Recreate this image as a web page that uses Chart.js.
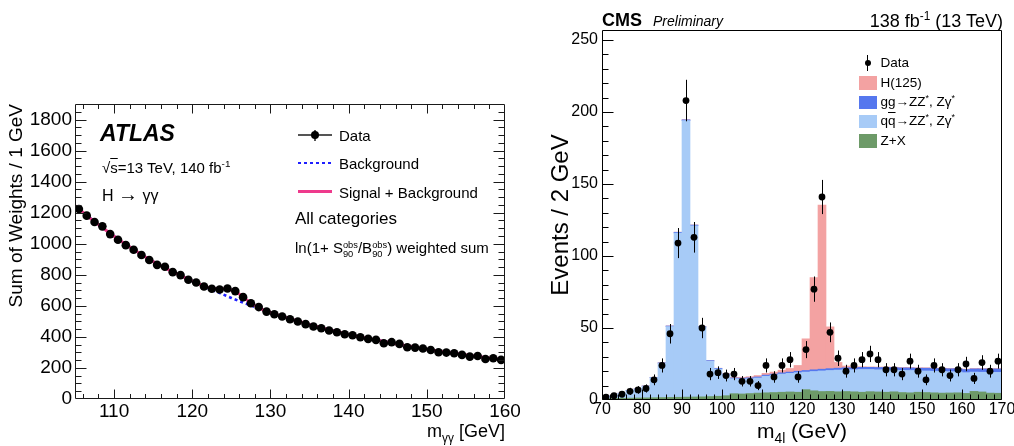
<!DOCTYPE html>
<html>
<head>
<meta charset="utf-8">
<script src="https://cdn.jsdelivr.net/npm/chart.js@4.4.1/dist/chart.umd.min.js"></script>
<style>
html,body{margin:0;padding:0;background:#fff;}
#wrap{position:relative;width:1014px;height:446px;overflow:hidden;background:#fff;font-family:"Liberation Sans",Arial,Helvetica,sans-serif;color:#000;}
canvas{position:absolute;top:0;}
.t{position:absolute;white-space:nowrap;line-height:1;}
.t sub,.t sup{font-size:0.66em;line-height:0;}
.ss{display:inline-block;font-size:0.62em;line-height:0.95;vertical-align:-0.42em;text-align:left;}
.ol{text-decoration:overline;}
.sym{position:absolute;}
</style>
</head>
<body>
<div id="wrap">
<canvas id="atlas" width="520" height="446" style="left:0px;width:520px;height:446px"></canvas>
<canvas id="cms" width="484" height="446" style="left:530px;width:484px;height:446px"></canvas>
</div>
<script>
// ================= ATLAS  H -> gamma gamma =================
const atlasMass = [105.5,106.5,107.5,108.5,109.5,110.5,111.5,112.5,113.5,114.5,
  115.5,116.5,117.5,118.5,119.5,120.5,121.5,122.5,123.5,124.5,
  125.5,126.5,127.5,128.5,129.5,130.5,131.5,132.5,133.5,134.5,
  135.5,136.5,137.5,138.5,139.5,140.5,141.5,142.5,143.5,144.5,
  145.5,146.5,147.5,148.5,149.5,150.5,151.5,152.5,153.5,154.5,
  155.5,156.5,157.5,158.5,159.5];
const atlasData = [1224,1181,1140,1112,1062,1026,991,961,927,895,
  864,852,817,798,768,750,725,710,705,712,
  695,656,617,592,563,546,531,514,499,482,
  467,456,441,430,417,411,398,387,381,359,
  366,355,333,331,325,316,301,299,295,284,
  273,277,258,262,252];
const atlasCurveMass = [105,106,107,108,109,110,111,112,113,114,115,116,117,118,119,120,
  121,122,123,124,125,126,127,128,129,130,131,132,133,134,135,136,137,138,139,140,
  141,142,143,144,145,146,147,148,149,150,151,152,153,154,155,156,157,158,159,160];
const atlasBkg = [1245,1203,1162,1123,1085,1048,1013,979,947,915,885,857,832,807,783,760,
  737,714,693,672,651,631,612,593,574,557,540,524,509,494,479,465,452,440,428,416,
  405,395,385,375,366,356,347,338,329,320,312,305,298,291,284,277,270,264,257,251];
const atlasSplusB = [1245,1203,1162,1123,1085,1048,1013,979,947,915,885,857,832,807,783,760,
  738,719,711,710,702,676,637,602,576,557,540,524,509,494,479,465,452,440,428,416,
  405,395,385,375,366,356,347,338,329,320,312,305,298,291,284,277,270,264,257,251];
const atlasXTicks = [110,120,130,140,150,160];
const atlasYTicks = [0,200,400,600,800,1000,1200,1400,1600,1800];

// ================= CMS  H -> ZZ -> 4l =================
const cmsMass = [71,73,75,77,79,81,83,85,87,89,91,93,95,97,99,101,103,105,107,109,
  111,113,115,117,119,121,123,125,127,129,131,133,135,137,139,141,143,145,147,149,
  151,153,155,157,159,161,163,165,167,169];
const cmsZX = [1.0,1.1,1.2,1.3,1.4,1.5,1.6,1.7,1.8,1.9, 2.0,2.1,2.2,2.4,2.6,3.0,4.4,4.2,4.5,4.8,
  5.0,5.2,5.4,5.6,5.4,7.2,6.4,5.9,6.0,5.7, 5.9,5.7,5.4,5.8,5.6,5.4,5.7,5.2,5.0,5.4,
  5.2,5.0,4.8,4.9,5.0,4.6,6.0,5.6,4.8,4.7];
const cmsQQ = [1.0,1.9,3.3,5.2,6.1,8.0,13.9,23.8,49.2,114.1, 192.0,118.9,48.3,24.6,18.9,14.5,10.4,10.4,10.3,10.5,
  11.5,12.0,12.6,12.9,13.6,12.2,13.4,14.3,14.5,15.1, 15.1,15.3,15.8,15.4,15.4,15.6,15.1,15.4,15.5,14.9,
  15.0,15.0,15.1,14.8,14.6,14.4,13.4,13.7,14.4,14.5];
const cmsGG = [0.2,0.2,0.2,0.2,0.2,0.2,0.2,0.3,0.4,0.5, 0.6,0.5,0.4,0.4,0.5,0.5,0.5,0.6,0.6,0.7,
  0.8,0.8,0.9,0.9,1.0,1.1,1.2,1.2,1.3,1.3, 1.4,1.4,1.5,1.5,1.6,1.6,1.7,1.7,1.8,1.8,
  1.9,1.9,2.0,2.0,2.1,2.2,2.2,2.3,2.3,2.4];
const cmsH = [0.1,0.1,0.1,0.1,0.1,0.1,0.1,0.1,0.1,0.1, 0.1,0.1,0.1,0.1,0.1,0.3,0.5,0.6,0.8,1.0,
  1.2,1.4,1.8,2.5,4.0,22,64,114,29,4, 1.2,0.6,0.4,0.3,0.3,0.3,0.3,0.3,0.3,0.3,
  0.3,0.3,0.3,0.3,0.3,0.3,0.3,0.3,0.3,0.3];
const cmsData = [2,3,4,6,7,8,14,24,46,109, 208,113,50,18,19,17,18,13,13,10,
  24,16,24,28,16,35,77,141,47,29, 20,24,28,32,28,21,21,18,27,20,
  14,24,21,17,21,25,15,26,20,27];
const cmsXTicks = [70,80,90,100,110,120,130,140,150,160,170];
const cmsYTicks = [0,50,100,150,200,250];

const FONT = '"Liberation Sans", Arial, Helvetica, sans-serif';
Chart.defaults.font.family = FONT;
Chart.defaults.color = '#000';

function zeroPad(s){ s.paddingLeft = 0; s.paddingRight = 0; s.paddingTop = 0; s.paddingBottom = 0; }

// ROOT-style frame with inward ticks, placed through the chart's scales
function rootFrame(cfg) {
  return {
    id: 'rootFrame',
    afterDraw(chart) {
      const {ctx, chartArea: a, scales} = chart;
      const xs = scales.x, ys = scales.y;
      const L = Math.round(a.left) + 0.5, R = Math.round(a.right) - 0.5;
      const T = Math.round(a.top) + 0.5, B = Math.round(a.bottom) - 0.5;
      ctx.save();
      ctx.strokeStyle = cfg.color;
      ctx.lineWidth = 1;
      ctx.beginPath();
      ctx.rect(L, T, R - L, B - T);
      const isMajor = (v, step) => Math.abs(v / step - Math.round(v / step)) < 1e-6;
      const x0 = Math.ceil(xs.min / cfg.xMinor - 1e-9) * cfg.xMinor;
      for (let i = 0; x0 + i * cfg.xMinor <= xs.max + 1e-9; i++) {
        const v = x0 + i * cfg.xMinor;
        const px = Math.round(xs.getPixelForValue(v)) + 0.5;
        if (px <= L + 1 || px >= R - 1) continue;
        const len = isMajor(v, cfg.xMajor) ? cfg.xMajLen : cfg.xMinLen;
        ctx.moveTo(px, B); ctx.lineTo(px, B - len);
        if (cfg.top) { ctx.moveTo(px, T); ctx.lineTo(px, T + len); }
      }
      const y0 = Math.ceil(ys.min / cfg.yMinor - 1e-9) * cfg.yMinor;
      for (let i = 0; y0 + i * cfg.yMinor <= ys.max + 1e-9; i++) {
        const v = y0 + i * cfg.yMinor;
        const py = Math.round(ys.getPixelForValue(v)) + 0.5;
        if (py <= T + 1 || py >= B - 1) continue;
        const len = isMajor(v, cfg.yMajor) ? cfg.yMajLen : cfg.yMinLen;
        ctx.moveTo(L, py); ctx.lineTo(L + len, py);
        if (cfg.right) { ctx.moveTo(R, py); ctx.lineTo(R - len, py); }
      }
      ctx.stroke();
      ctx.restore();
    }
  };
}

// ---------- ATLAS chart ----------
new Chart(document.getElementById('atlas'), {
  type: 'line',
  data: {
    datasets: [
      { label: 'Data', type: 'scatter', order: 0,
        data: atlasMass.map((m, i) => ({x: m, y: atlasData[i]})),
        pointRadius: 4.3, pointBackgroundColor: '#000', pointBorderColor: '#000', pointBorderWidth: 0, showLine: false },
      { label: 'Signal + Background', order: 1,
        data: atlasCurveMass.map((m, i) => ({x: m, y: atlasSplusB[i]})),
        borderColor: '#ee3a8c', borderWidth: 3, pointRadius: 0, cubicInterpolationMode: 'monotone', fill: false },
      { label: 'Background', order: 2,
        data: atlasCurveMass.map((m, i) => ({x: m, y: atlasBkg[i]})),
        borderColor: '#1f1fff', borderWidth: 2.6, borderDash: [3, 3], pointRadius: 0, cubicInterpolationMode: 'monotone', fill: false }
    ]
  },
  options: {
    responsive: false, animation: false, events: [],
    layout: { padding: { left: 0, right: 15, top: 104, bottom: 0 } },
    plugins: { legend: { display: false }, tooltip: { enabled: false } },
    scales: {
      x: { type: 'linear', min: 105, max: 160,
        grid: { display: false, drawTicks: false }, border: { display: false },
        afterBuildTicks: s => { s.ticks = atlasXTicks.map(v => ({value: v})); },
        afterFit: s => { s.height = 47; zeroPad(s); },
        ticks: { font: { size: 19 }, color: '#000', padding: 1, maxRotation: 0, autoSkip: false, callback: v => String(v) } },
      y: { type: 'linear', min: 0, max: 1900,
        grid: { display: false, drawTicks: false }, border: { display: false },
        afterBuildTicks: s => { s.ticks = atlasYTicks.map(v => ({value: v})); },
        afterFit: s => { s.width = 75; zeroPad(s); },
        ticks: { font: { size: 19 }, color: '#000', padding: 3, autoSkip: false, callback: v => String(v) } }
    }
  },
  plugins: [rootFrame({ color: '#1a1a1a', xMinor: 2, xMajor: 10, xMajLen: 9, xMinLen: 4.5,
    yMinor: 50, yMajor: 200, yMajLen: 11, yMinLen: 6, top: true, right: true })]
});

// ---------- CMS chart ----------
const errBars = {
  id: 'errBars',
  afterDatasetsDraw(chart) {
    const {ctx, scales: {x, y}} = chart;
    ctx.save();
    ctx.strokeStyle = '#000'; ctx.lineWidth = 1;
    ctx.beginPath();
    cmsMass.forEach((m, i) => {
      const n = cmsData[i], e = Math.sqrt(n);
      const px = Math.round(x.getPixelForValue(m)) + 0.5;
      ctx.moveTo(px, y.getPixelForValue(n + e));
      ctx.lineTo(px, y.getPixelForValue(Math.max(n - e, 0)));
    });
    ctx.stroke();
    ctx.restore();
  }
};
const barDs = (label, vals, color) => ({
  label, type: 'bar', order: 1, data: cmsMass.map((m, i) => ({x: m, y: vals[i]})),
  backgroundColor: color, borderWidth: 0, barPercentage: 1.0, categoryPercentage: 1.0
});
new Chart(document.getElementById('cms'), {
  type: 'bar',
  data: {
    datasets: [
      { label: 'Data', type: 'scatter', order: 0, stack: 'data',
        data: cmsMass.map((m, i) => ({x: m, y: cmsData[i]})),
        pointRadius: 3.4, pointBackgroundColor: '#000', pointBorderWidth: 0, showLine: false },
      barDs('Z+X', cmsZX, '#6d9a68'),
      barDs('qq->ZZ*, Zgamma*', cmsQQ, '#a7cbf7'),
      barDs('gg->ZZ*, Zgamma*', cmsGG, '#5577ee'),
      barDs('H(125)', cmsH, '#f3a2a2')
    ]
  },
  options: {
    responsive: false, animation: false, events: [],
    layout: { padding: { left: 0, right: 12, top: 30, bottom: 0 } },
    plugins: { legend: { display: false }, tooltip: { enabled: false } },
    scales: {
      x: { type: 'linear', min: 70, max: 170, stacked: true, offset: false,
        grid: { display: false, drawTicks: false, offset: false }, border: { display: false },
        afterBuildTicks: s => { s.ticks = cmsXTicks.map(v => ({value: v})); },
        afterFit: s => { s.height = 46; zeroPad(s); },
        ticks: { font: { size: 16 }, color: '#000', padding: 0, maxRotation: 0, autoSkip: false, callback: v => String(v) } },
      y: { type: 'linear', min: 0, max: 257, stacked: true,
        grid: { display: false, drawTicks: false }, border: { display: false },
        afterBuildTicks: s => { s.ticks = cmsYTicks.map(v => ({value: v})); },
        afterFit: s => { s.width = 72; zeroPad(s); },
        ticks: { font: { size: 16 }, color: '#000', padding: 4, autoSkip: false, callback: v => String(v) } }
    }
  },
  plugins: [errBars, rootFrame({ color: '#000', xMinor: 2, xMajor: 10, xMajLen: 10, xMinLen: 5,
    yMinor: 10, yMajor: 50, yMajLen: 11, yMinLen: 6, top: false, right: false })]
});

// ---------- text & legends (real HTML text) ----------
const W = document.getElementById('wrap');
function txt(html, o) {
  const d = document.createElement('div');
  d.className = 't';
  d.innerHTML = html;
  d.style.fontSize = o.size + 'px';
  if (o.weight) d.style.fontWeight = o.weight;
  if (o.style) d.style.fontStyle = o.style;
  d.style.top = (o.base - 0.8465 * o.size) + 'px';
  if (o.left !== undefined) d.style.left = o.left + 'px';
  if (o.right !== undefined) d.style.right = (1014 - o.right) + 'px';
  if (o.cx !== undefined) { d.style.left = (o.cx - 300) + 'px'; d.style.width = '600px'; d.style.textAlign = 'center'; }
  W.appendChild(d);
}
function vtxt(html, o) {
  const d = document.createElement('div');
  d.className = 't';
  d.innerHTML = html;
  d.style.fontSize = o.size + 'px';
  d.style.width = '300px';
  d.style.transformOrigin = '0 0';
  d.style.transform = 'rotate(-90deg)';
  d.style.left = (o.baseX - 0.8465 * o.size) + 'px';
  if (o.endY !== undefined) { d.style.textAlign = 'right'; d.style.top = (o.endY + 300) + 'px'; }
  else { d.style.textAlign = 'center'; d.style.top = (o.cy + 150) + 'px'; }
  W.appendChild(d);
}
function box(l, t, w, h, bg, extra) {
  const d = document.createElement('div');
  d.className = 'sym';
  d.style.left = l + 'px'; d.style.top = t + 'px';
  d.style.width = w + 'px'; d.style.height = h + 'px';
  d.style.background = bg;
  if (extra) Object.assign(d.style, extra);
  W.appendChild(d);
}

// ATLAS
vtxt('Sum of Weights / 1 GeV', { size: 19, baseX: 22, endY: 104 });
txt('m<sub>γγ</sub> [GeV]', { size: 18, right: 505, base: 437 });
txt('ATLAS', { size: 23, weight: 'bold', style: 'italic', left: 100, base: 141.5 });
txt('√<span class="ol">s</span>=13 TeV, 140 fb<sup>-1</sup>', { size: 15, left: 102, base: 173 });
txt('H <span style="font-size:1.25em;line-height:0">→</span> γγ', { size: 16, left: 102, base: 201.5 });
// legend
box(298, 134.3, 34, 1.4, '#555');
box(314.3, 129.5, 1.4, 11, '#555');
box(310.8, 130.8, 8.6, 8.6, '#000', { borderRadius: '50%' });
txt('Data', { size: 15, left: 339, base: 140.5 });
box(298, 161.5, 34, 2.6, 'repeating-linear-gradient(90deg,#1f1fff 0 3px,transparent 3px 6px)');
txt('Background', { size: 15, left: 339, base: 169 });
box(298, 190.3, 34, 3, '#ee3a8c');
txt('Signal + Background', { size: 15, left: 339, base: 197.5 });
txt('All categories', { size: 17, left: 295, base: 224 });
txt('ln(1+ S<span class="ss">obs<br>90</span>/B<span class="ss">obs<br>90</span>) weighted sum', { size: 15, left: 295, base: 253 });

// CMS
vtxt('Events / 2 GeV', { size: 24, baseX: 568, cy: 215 });
txt('m<sub>4l</sub> (GeV)', { size: 21, cx: 802, base: 438 });
txt('CMS', { size: 18, weight: 'bold', left: 602, base: 26 });
txt('Preliminary', { size: 14, style: 'italic', left: 653, base: 26 });
txt('138 fb<sup>-1</sup> (13 TeV)', { size: 18, right: 1003, base: 27 });
// legend
box(867, 55, 1.2, 16, '#000');
box(864.5, 59.5, 6.4, 6.4, '#000', { borderRadius: '50%' });
txt('Data', { size: 13.5, left: 880.5, base: 67.5 });
box(859, 76, 18, 13.5, '#f3a2a2');
txt('H(125)', { size: 13.5, left: 880.5, base: 87.3 });
box(859, 95.5, 18, 13.5, '#5577ee');
txt('gg→ZZ<sup>*</sup>, Zγ<sup>*</sup>', { size: 13.5, left: 880.5, base: 106.8 });
box(859, 114.5, 18, 13.5, '#a7cbf7');
txt('q<span class="ol">q</span>→ZZ<sup>*</sup>, Zγ<sup>*</sup>', { size: 13.5, left: 880.5, base: 125.8 });
box(859, 134, 18, 13.5, '#6d9a68');
txt('Z+X', { size: 13.5, left: 880.5, base: 145.5 });
</script>
</body>
</html>
